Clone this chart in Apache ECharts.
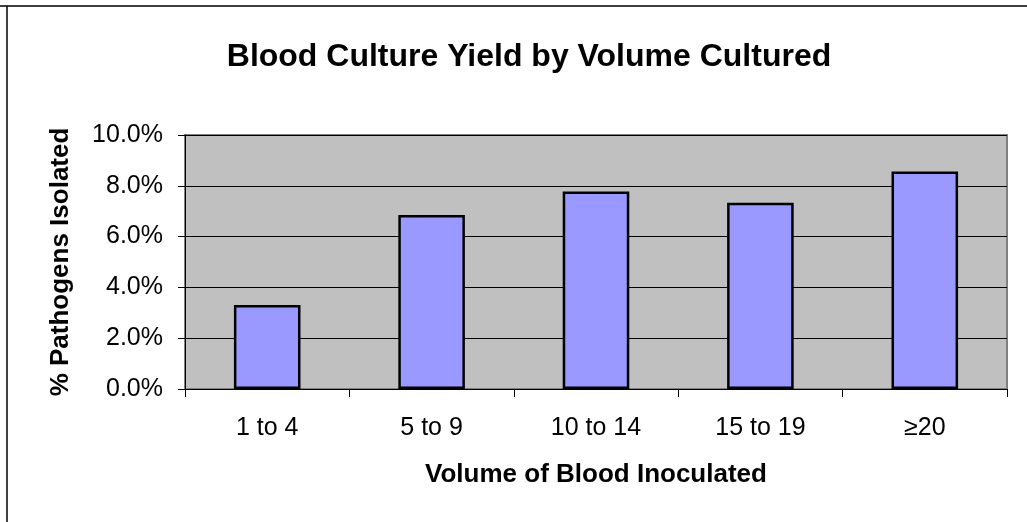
<!DOCTYPE html>
<html><head><meta charset="utf-8">
<script src="https://cdn.jsdelivr.net/npm/echarts@6/dist/echarts.min.js"></script>
<style>html,body{margin:0;padding:0;background:#fff}#c{width:1027px;height:522px}</style>
</head><body><div id="c"></div>
<script>
const categories = ['1 to 4', '5 to 9', '10 to 14', '15 to 19', '≥20'];
const values = [3.31, 6.85, 7.78, 7.33, 8.56];
const yTicks = [0, 2, 4, 6, 8, 10];

const chart = echarts.init(document.getElementById('c'), null, {renderer: 'canvas'});
const F = '"Liberation Sans", Arial, sans-serif';
chart.setOption({
  animation: false,
  backgroundColor: '#fff',
  title: {
    text: 'Blood Culture Yield by Volume Cultured',
    left: 524, top: 36, textAlign: 'center',
    textStyle: {fontFamily: F, fontSize: 32, fontWeight: 'bold', color: '#000'}
  },
  graphic: [
    {type: 'line', shape: {x1: 0, y1: 6, x2: 1027, y2: 6}, style: {stroke: '#000', lineWidth: 1.5}, z: 100},
    {type: 'line', shape: {x1: 7, y1: 6, x2: 7, y2: 522}, style: {stroke: '#000', lineWidth: 1.5}, z: 100}
  ],
  grid: {left: 185, right: 20, top: 135, bottom: 133, show: true,
    backgroundColor: '#C0C0C0', borderColor: '#808080', borderWidth: 2},
  xAxis: {
    type: 'category', data: categories,
    axisLine: {lineStyle: {color: '#000', width: 1}},
    axisTick: {show: true, alignWithLabel: false, length: 8, lineStyle: {color: '#000'}},
    axisLabel: {fontFamily: F, fontSize: 25, color: '#000', margin: 27},
    name: 'Volume of Blood Inoculated', nameLocation: 'middle', nameGap: 73,
    nameTextStyle: {fontFamily: F, fontSize: 26, fontWeight: 'bold', color: '#000'}
  },
  yAxis: {
    type: 'value', min: 0, max: 10, interval: 2,
    axisLine: {show: true, lineStyle: {color: '#000', width: 1}},
    axisTick: {show: true, length: 7, lineStyle: {color: '#000'}},
    splitLine: {show: true, lineStyle: {color: '#000', width: 1}},
    axisLabel: {fontFamily: F, fontSize: 25, color: '#000', margin: 22,
      formatter: v => yTicks.includes(v) ? v.toFixed(1) + '%' : ''},
    name: '% Pathogens Isolated', nameLocation: 'middle', nameGap: 111, nameRotate: 90,
    nameTextStyle: {fontFamily: F, fontSize: 26, fontWeight: 'bold', color: '#000'}
  },
  series: [{
    type: 'bar', data: values, barWidth: '40.5%',
    itemStyle: {color: '#9999FF', borderColor: '#000', borderWidth: 2.5}
  }]
});
</script></body></html>
